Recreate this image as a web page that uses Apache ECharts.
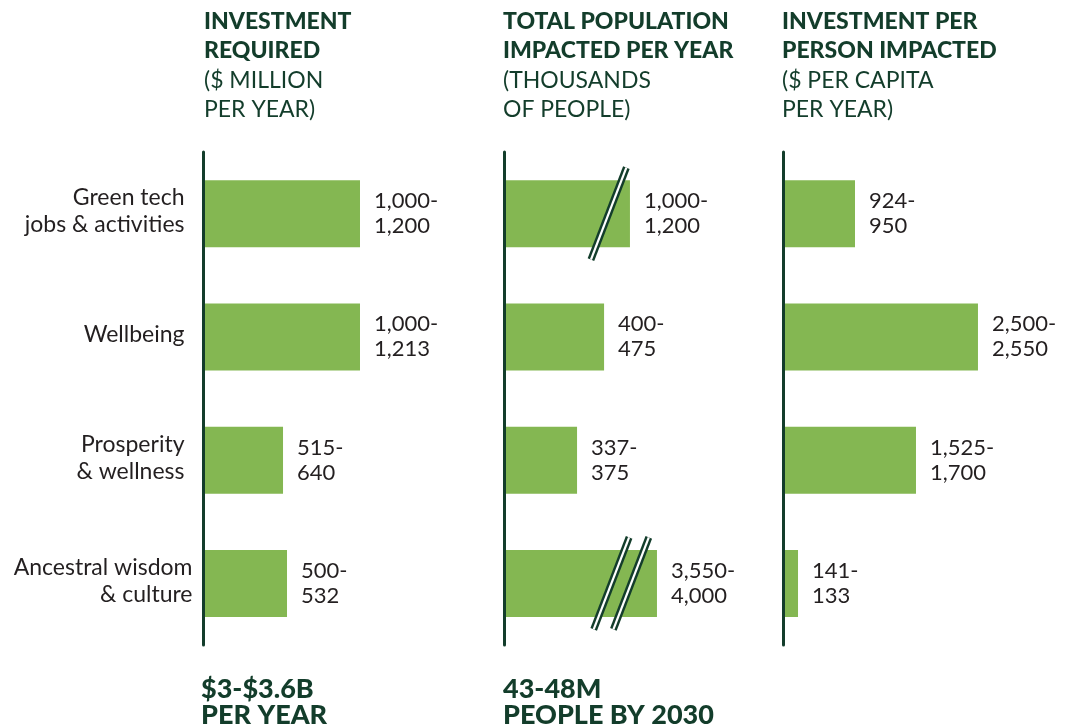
<!DOCTYPE html>
<html>
<head>
<meta charset="utf-8">
<script src="https://cdn.jsdelivr.net/npm/echarts@6/dist/echarts.min.js"></script>
<style>
html,body{margin:0;padding:0;background:#fff;}
#chart{width:1068px;height:727px;}
</style>
</head>
<body>
<div id="chart"></div>
<script>
// ---- data ----
const categories = ['Green tech\njobs & activities', 'Wellbeing', 'Prosperity\n& wellness', 'Ancestral wisdom\n& culture'];

// Investment required ($ million per year)
const investLow = ['1,000', '1,000', '515', '500'];
const investHigh = ['1,200', '1,213', '640', '532'];
const investBar = [1100, 1100, 559, 587];

// Total population impacted per year (thousands) - drawn length (truncated where a break is shown)
const popLow = ['1,000', '400', '337', '3,550'];
const popHigh = ['1,200', '475', '375', '4,000'];
const popBar = [550, 437, 319, 668];
// axis breaks: [value position, category index]
const popBreaks = [[457, 0], [469, 3], [555, 3]];

// Investment per person impacted ($ per capita per year)
const perLow = ['924', '2,500', '1,525', '141'];
const perHigh = ['950', '2,550', '1,700', '133'];
const perBar = [926, 2523, 1718, 186];

const panelTitles = [
  ['INVESTMENT', 'REQUIRED', '($ MILLION', 'PER YEAR)'],
  ['TOTAL POPULATION', 'IMPACTED PER YEAR', '(THOUSANDS', 'OF PEOPLE)'],
  ['INVESTMENT PER', 'PERSON IMPACTED', '($ PER CAPITA', 'PER YEAR)']
];
const totals = [['$3-$3.6B', 'PER YEAR'], ['43-48M', 'PEOPLE BY 2030']];

// ---- styles ----
const FONT = 'Lato';
const DARK = '#133d2b';
const GREEN = '#84b752';
const TEXT = '#231f20';

const grids = [
  {left: 203.5, top: 152, width: 213.4, height: 493},
  {left: 504, top: 152, width: 229, height: 493},
  {left: 783.7, top: 152, width: 269.5, height: 493}
];
const maxes = [1500, 1000, 3500];
// right padding of each category label (last one sits closer to the axis)
const catPad = [8, 8, 8, 0];

function makeTitle(lines, left) {
  return {
    left: left, top: 7, padding: 0,
    text: '{b|' + lines[0] + '}\n{b|' + lines[1] + '}\n{r|' + lines[2] + '}\n{r|' + lines[3] + '}',
    textStyle: {
      rich: {
        b: {fontFamily: FONT, fontWeight: 900, fontSize: 23, color: DARK, lineHeight: 29.3},
        r: {fontFamily: FONT, fontWeight: 'normal', fontSize: 23, color: DARK, lineHeight: 29.3}
      }
    }
  };
}
function makeTotal(lines, left) {
  return {
    left: left, top: 676, padding: 0,
    text: lines.join('\n'),
    textStyle: {fontFamily: FONT, fontWeight: 900, fontSize: 27, color: DARK, lineHeight: 26}
  };
}

function barSeries(idx, values, low, high) {
  return {
    type: 'bar',
    xAxisIndex: idx, yAxisIndex: idx,
    data: values,
    barWidth: 67,
    itemStyle: {color: GREEN},
    z: 1,
    label: {
      show: true, position: 'right', distance: 14,
      fontFamily: FONT, fontSize: 22, color: TEXT, lineHeight: 25, align: 'left',
      padding: [3, 0, 0, 0],
      formatter: p => low[p.dataIndex] + '-\n' + high[p.dataIndex]
    }
  };
}

const catRich = {};
catPad.forEach((p, i) => {
  catRich['c' + i] = {fontFamily: FONT, fontSize: 23, color: TEXT, lineHeight: 27, align: 'right', padding: [0, p, 0, 0]};
});

const option = {
  animation: false,
  backgroundColor: '#fff',
  title: [
    makeTitle(panelTitles[0], 204),
    makeTitle(panelTitles[1], 503),
    makeTitle(panelTitles[2], 782),
    makeTotal(totals[0], 201),
    makeTotal(totals[1], 503)
  ],
  grid: grids,
  xAxis: grids.map((g, i) => ({gridIndex: i, type: 'value', min: 0, max: maxes[i], show: false})),
  yAxis: grids.map((g, i) => ({
    gridIndex: i, type: 'category', data: categories, inverse: true,
    axisLine: {show: true, lineStyle: {color: DARK, width: 3}},
    axisTick: {show: false},
    splitLine: {show: false},
    z: 5,
    axisLabel: {
      show: i === 0, margin: 11,
      fontFamily: FONT, fontSize: 23, color: TEXT, lineHeight: 27, align: 'right',
      padding: [0, 0, 5, 0],
      formatter: (v, idx) => v.split('\n').map(s => '{c' + idx + '|' + s + '}').join('\n'),
      rich: catRich
    }
  })),
  series: [
    barSeries(0, investBar, investLow, investHigh),
    barSeries(1, popBar, popLow, popHigh),
    barSeries(2, perBar, perLow, perHigh),
    {
      type: 'custom',
      xAxisIndex: 1, yAxisIndex: 1,
      data: popBreaks,
      z: 10,
      silent: true,
      renderItem: function (params, api) {
        const c = api.coord([api.value(0), api.value(1)]);
        const dy = 46, dx = dy * 0.385;
        const shape = {x1: c[0] - dx, y1: c[1] + dy, x2: c[0] + dx, y2: c[1] - dy};
        return {
          type: 'group',
          children: [
            {type: 'line', shape: shape, style: {stroke: DARK, lineWidth: 7, lineCap: 'butt'}},
            {type: 'line', shape: shape, style: {stroke: '#ffffff', lineWidth: 2.2, lineCap: 'butt'}}
          ]
        };
      }
    }
  ]
};

const chart = echarts.init(document.getElementById('chart'), null, {renderer: 'canvas'});
chart.setOption(option);
</script>
</body>
</html>
